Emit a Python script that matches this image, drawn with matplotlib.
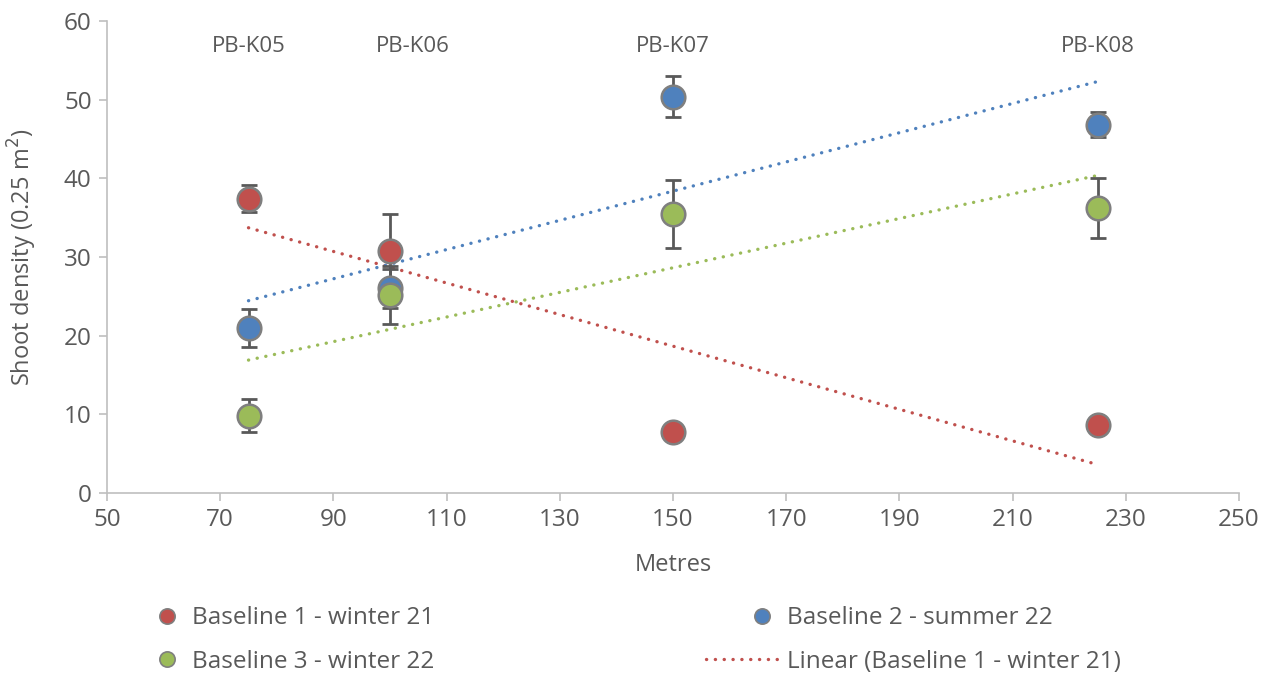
import numpy as np
import matplotlib
matplotlib.use('Agg')
import matplotlib.pyplot as plt

plt.rcParams['font.family'] = ['Open Sans', 'DejaVu Sans']

# sampling positions (metres) and site labels
metres = [75, 100, 150, 225]
sites = ['PB-K05', 'PB-K06', 'PB-K07', 'PB-K08']
site_label_x = [75, 104, 150, 225]
site_label_y = 56.8

# shoot density means and error values
b1_mean = [37.4, 30.8, 7.8, 8.7]
b1_err = [1.7, 4.7, 0.5, 0.5]
b2_mean = [21.0, 26.0, 50.4, 46.8]
b2_err = [2.4, 2.5, 2.6, 1.6]
b3_mean = [9.8, 25.2, 35.5, 36.2]
b3_err = [2.1, 3.7, 4.3, 3.8]

series = [
    ('Baseline 1 - winter 21', b1_mean, b1_err, '#C0504D'),
    ('Baseline 2 - summer 22', b2_mean, b2_err, '#4F81BD'),
    ('Baseline 3 - winter 22', b3_mean, b3_err, '#9BBB59'),
]

TXT = '#595959'
AX = '#BFBFBF'

fig = plt.figure(figsize=(12.7, 6.77), dpi=100)
ax = fig.add_axes([107 / 1270, 1 - 493 / 677, (1239 - 107) / 1270, (493 - 21) / 677])

x = np.array(metres, dtype=float)
handles = {}
for name, mean, err, col in series:
    # trendline first so it sits under the markers
    k, b = np.polyfit(x, mean, 1)
    xs = np.array([x.min(), x.max()])
    line, = ax.plot(xs, k * xs + b, color=col, lw=2.4, linestyle=(0, (0.05, 2.6)),
                    dash_capstyle='round', zorder=2)
    handles['Linear (' + name + ')'] = line
    ax.errorbar(x, mean, yerr=err, fmt='none', ecolor=TXT, elinewidth=2,
                capsize=6, capthick=2, zorder=3)
    pts, = ax.plot(x, mean, 'o', ms=17, mfc=col, mec='#7F7F7F', mew=1.8,
                   linestyle='none', zorder=4, label=name)
    handles[name] = pts

for lx, lab in zip(site_label_x, sites):
    ax.text(lx, site_label_y, lab, ha='center', va='center', fontsize=16, color=TXT)

ax.set_xlim(50, 250)
ax.set_ylim(0, 60)
ax.set_xticks(range(50, 251, 20))
ax.set_yticks(range(0, 61, 10))
ax.tick_params(colors=AX, labelcolor=TXT, labelsize=17.5, length=6, width=1.2, pad=5)
for s in ['top', 'right']:
    ax.spines[s].set_visible(False)
for s in ['left', 'bottom']:
    ax.spines[s].set_color(AX)
    ax.spines[s].set_linewidth(1.2)

ax.set_xlabel('Metres', fontsize=17, color=TXT, labelpad=15)
ax.set_ylabel('Shoot density (0.25 m$^2$)', fontsize=17, color=TXT, labelpad=18)

order = ['Baseline 1 - winter 21', 'Baseline 3 - winter 22',
         'Baseline 2 - summer 22', 'Linear (Baseline 1 - winter 21)']
leg_handles = []
for n in order:
    h = handles[n]
    if n.startswith('Linear'):
        leg_handles.append(h)
    else:
        leg_handles.append(plt.Line2D([], [], marker='o', ms=11, mfc=h.get_markerfacecolor(),
                                      mec='#7F7F7F', mew=1.2, linestyle='none'))
leg = fig.legend(leg_handles, order, ncol=2, loc='center', bbox_to_anchor=(0.485, 1 - 640 / 677),
                 frameon=False, fontsize=17.5, handlelength=3.2, handletextpad=0.12,
                 columnspacing=11.2, labelspacing=0.8, numpoints=1)
for t in leg.get_texts():
    t.set_color(TXT)
# Excel puts the marker near the text rather than in the middle of the handle
for n, h in zip(order, leg.legend_handles):
    if not n.startswith('Linear'):
        xd = np.asarray(h.get_xdata(), dtype=float)
        h.set_xdata(xd + (xd[-1] - xd[0]) * 0.22)

fig.savefig('out.png', dpi=100)
